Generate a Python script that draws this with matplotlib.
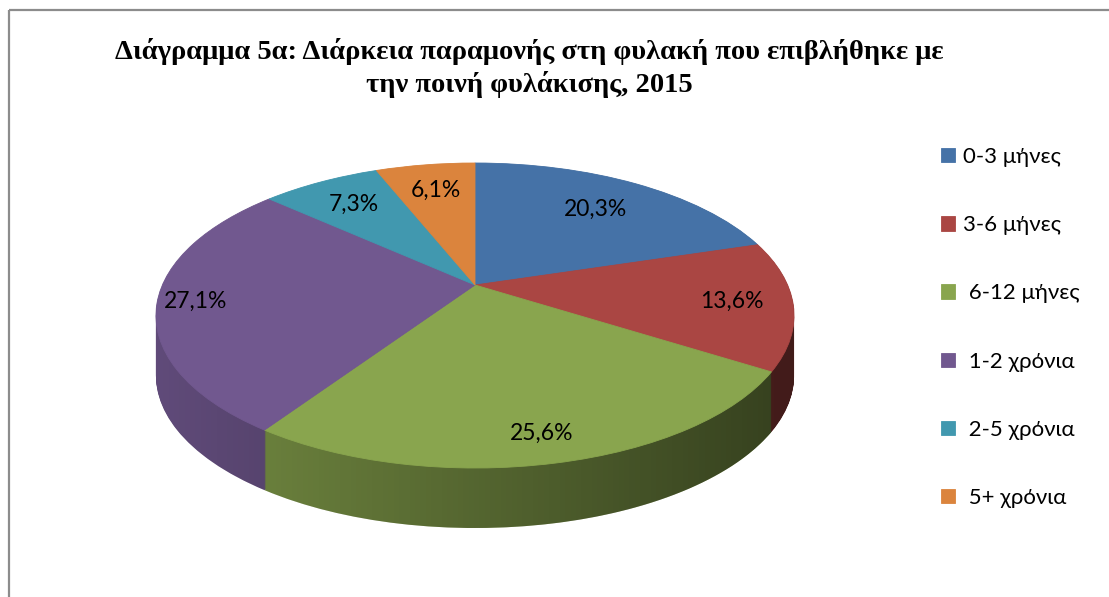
import numpy as np
import matplotlib
matplotlib.use("Agg")
import matplotlib.pyplot as plt
from matplotlib.transforms import Transform, Affine2D
from matplotlib.path import Path
from matplotlib.patches import Rectangle

# ---- data ----
categories = ["0-3 μήνες", "3-6 μήνες", " 6-12 μήνες", " 1-2 χρόνια", " 2-5 χρόνια", " 5+ χρόνια"]
values = [20.3, 13.6, 25.6, 27.1, 7.3, 6.1]
colors = ["#4572A7", "#AA4643", "#89A54E", "#71588F", "#4198AF", "#DB843D"]
title_lines = ["Διάγραμμα 5α: Διάρκεια παραμονής στη φυλακή που επιβλήθηκε με",
               "την ποινή φυλάκισης, 2015"]

# ---- layout / style ----
W, H = 1109, 597
CX, APEX_Y = 475, 285        # pie centre on screen (px)
R, S, K = 312.6, 146.4, 0.2  # perspective parameters
DEPTH = 60
label_r = [0.72, 0.81, 0.86, 0.88, 0.76, 0.76]
LABEL_FONT = ["Lato", "Open Sans", "DejaVu Sans"]


class Perspective(Transform):
    input_dims = 2
    output_dims = 2
    is_separable = False
    has_inverse = False

    def __init__(self, k):
        super().__init__()
        self.k = k

    def transform_non_affine(self, values):
        v = np.asarray(values, dtype=float)
        d = 1.0 + self.k * v[:, 1]
        return np.column_stack([v[:, 0] / d, v[:, 1] / d])


fig = plt.figure(figsize=(W / 100, H / 100), dpi=100)
ax = fig.add_axes([0, 0, 1, 1])


def screen(shift=0.0):
    return Perspective(K) + Affine2D().scale(R, -S).translate(CX, APEX_Y + shift)


def layer_transform(shift=0.0):
    return screen(shift) + ax.transData


# side walls: stacked pies shifted downward
for sh in np.arange(DEPTH, 0, -1.0):
    ws, _ = ax.pie(values, colors=colors, startangle=90, counterclock=False,
                   labeldistance=None, wedgeprops=dict(linewidth=0, zorder=1))
    for w in ws:
        w.set_transform(layer_transform(sh))

# lighting gradient over the side walls
circ = Path.unit_circle()
clip_paths = [screen(sh).transform_path(circ) for sh in np.arange(0, DEPTH + 0.1, 1.0)]
clip = Path.make_compound_path(*clip_paths)
grad = np.zeros((1, 400, 4))
grad[..., 3] = np.linspace(0.15, 0.62, 400)
xl, xr = CX - R * 1.03, CX + R * 1.03
im = ax.imshow(grad, extent=(xl, xr, 620, 150), aspect="auto",
               interpolation="bilinear", zorder=1.5)
im.set_clip_path(clip, transform=ax.transData)


# top face
def fmt(p):
    return f"{p:.1f}%".replace(".", ",")


wedges, _, autotexts = ax.pie(values, colors=colors, startangle=90, counterclock=False,
                              labeldistance=None, autopct=fmt, pctdistance=0.8,
                              wedgeprops=dict(linewidth=0.6, zorder=2),
                              textprops=dict(fontsize=16.5, family=LABEL_FONT, color="black"))
for w in wedges:
    w.set_edgecolor(w.get_facecolor())
    w.set_transform(layer_transform(0))
for t, r in zip(autotexts, label_r):
    x, y = t.get_position()
    t.set_position((x * r / 0.8, y * r / 0.8))
    t.set_transform(layer_transform(0))
    t.set_zorder(5)

# title
ax.text(529, 59, title_lines[0], ha="center", va="baseline", fontsize=20.5,
        family="Liberation Serif", fontweight="bold")
ax.text(529, 92, title_lines[1], ha="center", va="baseline", fontsize=20.5,
        family="Liberation Serif", fontweight="bold")

# legend
ax.legend(wedges, categories, loc="upper left", bbox_to_anchor=(941 / W, 1 - 147 / H),
          frameon=False, prop=dict(family=LABEL_FONT, size=16),
          handlelength=0.62, handleheight=0.62, handletextpad=0.35,
          labelspacing=2.17, borderpad=0, borderaxespad=0)

# chart border
ax.add_patch(Rectangle((9, 10), 1300, 800, fill=False, edgecolor="#8c8c8c",
                       linewidth=1.6, clip_on=False, zorder=10))

ax.set_xlim(0, W)
ax.set_ylim(H, 0)
ax.set_aspect("auto")
ax.axis("off")

fig.savefig("out.png", dpi=100, facecolor="white")
